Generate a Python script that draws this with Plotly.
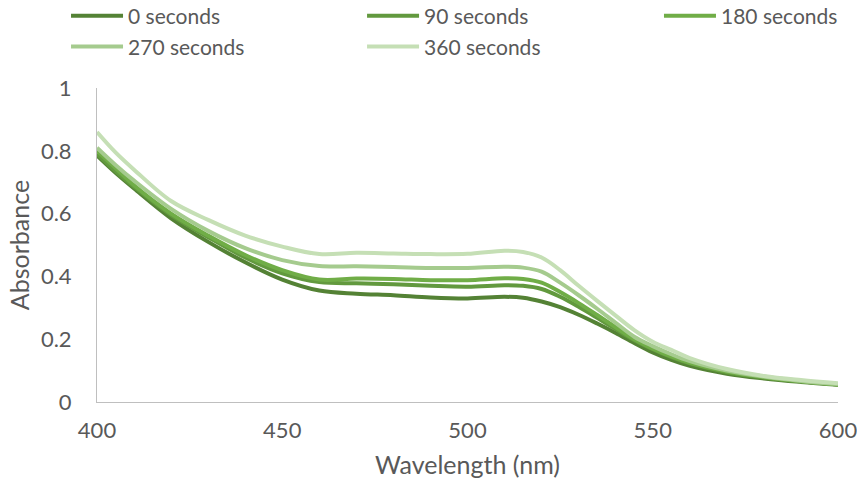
import plotly.graph_objects as go

wavelength = [400, 405, 410, 420, 430, 440, 450, 460, 470, 480, 490, 500, 510, 515, 520,
              525, 530, 535, 540, 545, 550, 555, 560, 570, 580, 590, 600]

abs_0 = [0.785, 0.73, 0.68, 0.585, 0.51, 0.445, 0.39, 0.355, 0.345, 0.34, 0.333, 0.33, 0.335, 0.332, 0.32,
         0.302, 0.278, 0.25, 0.22, 0.188, 0.158, 0.134, 0.115, 0.09, 0.075, 0.064, 0.055]
abs_90 = [0.79, 0.735, 0.685, 0.595, 0.525, 0.46, 0.41, 0.382, 0.378, 0.375, 0.37, 0.367, 0.372, 0.37, 0.36,
          0.335, 0.303, 0.268, 0.232, 0.197, 0.168, 0.143, 0.123, 0.095, 0.078, 0.066, 0.056]
abs_180 = [0.80, 0.745, 0.69, 0.60, 0.53, 0.468, 0.42, 0.39, 0.393, 0.392, 0.388, 0.388, 0.394, 0.392, 0.38,
           0.35, 0.315, 0.277, 0.238, 0.20, 0.17, 0.145, 0.125, 0.097, 0.079, 0.066, 0.056]
abs_270 = [0.81, 0.755, 0.705, 0.615, 0.545, 0.49, 0.452, 0.433, 0.432, 0.43, 0.427, 0.427, 0.431, 0.428, 0.415,
           0.38, 0.34, 0.297, 0.252, 0.208, 0.178, 0.152, 0.13, 0.10, 0.081, 0.067, 0.057]
abs_360 = [0.86, 0.795, 0.74, 0.64, 0.58, 0.53, 0.495, 0.471, 0.475, 0.473, 0.471, 0.472, 0.482, 0.478, 0.46,
           0.42, 0.37, 0.322, 0.275, 0.229, 0.192, 0.166, 0.14, 0.105, 0.083, 0.07, 0.06]

series_names = ["0 seconds", "90 seconds", "180 seconds", "270 seconds", "360 seconds"]
series_values = [abs_0, abs_90, abs_180, abs_270, abs_360]
colors = ["#548235", "#62993E", "#70AD47", "#A5CB8E", "#C5DFB5"]

# legend grid: (column, row) per series
legend_cols = [0, 1, 2, 0, 1]
legend_rows = [0, 0, 0, 1, 1]
col_x = [-0.0418, 0.3577, 0.7584]   # paper x of each legend column
row_y = [1.229, 1.131]              # paper y of each legend row

FONT = "Lato"
GREY = "#595959"

fig = go.Figure()
legend_layout = {}
for i, (name, vals, col) in enumerate(zip(series_names, series_values, colors)):
    lg = "legend" if i == 0 else f"legend{i + 1}"
    fig.add_trace(go.Scatter(
        x=wavelength, y=vals, name=name, mode="lines",
        line=dict(color=col, width=4, shape="spline", smoothing=1.0),
        legend=lg,
    ))
    legend_layout[lg] = dict(
        x=col_x[legend_cols[i]], y=row_y[legend_rows[i]],
        orientation="h", xanchor="left", yanchor="middle",
        font=dict(family=FONT, size=21, color=GREY),
        itemwidth=52,
        bgcolor="rgba(0,0,0,0)", borderwidth=0,
    )

fig.update_layout(
    width=857, height=487,
    margin=dict(l=97, r=19, t=88, b=85, autoexpand=False),
    paper_bgcolor="white", plot_bgcolor="white",
    font=dict(family=FONT, size=21, color=GREY),
    showlegend=True,
    **legend_layout,
    xaxis=dict(
        range=[400, 600], tickvals=[400, 450, 500, 550, 600],
        showgrid=False, zeroline=False,
        showline=True, linecolor="#BFBFBF", linewidth=1,
        ticks="", ticklabelstandoff=9, ticklabeloverflow="allow",
        tickfont=dict(family=FONT, size=22, color=GREY),
        title=dict(text="Wavelength (nm)", font=dict(family=FONT, size=25, color=GREY), standoff=14),
    ),
    yaxis=dict(
        range=[0, 1], tickvals=[0, 0.2, 0.4, 0.6, 0.8, 1],
        ticktext=["0", "0.2", "0.4", "0.6", "0.8", "1"],
        showgrid=False, zeroline=False,
        showline=True, linecolor="#BFBFBF", linewidth=1,
        ticks="", ticklabelstandoff=20, ticklabeloverflow="allow",
        tickfont=dict(family=FONT, size=22, color=GREY),
        title=dict(text="Absorbance", font=dict(family=FONT, size=25, color=GREY), standoff=4),
    ),
)

fig.write_html("out.html")
